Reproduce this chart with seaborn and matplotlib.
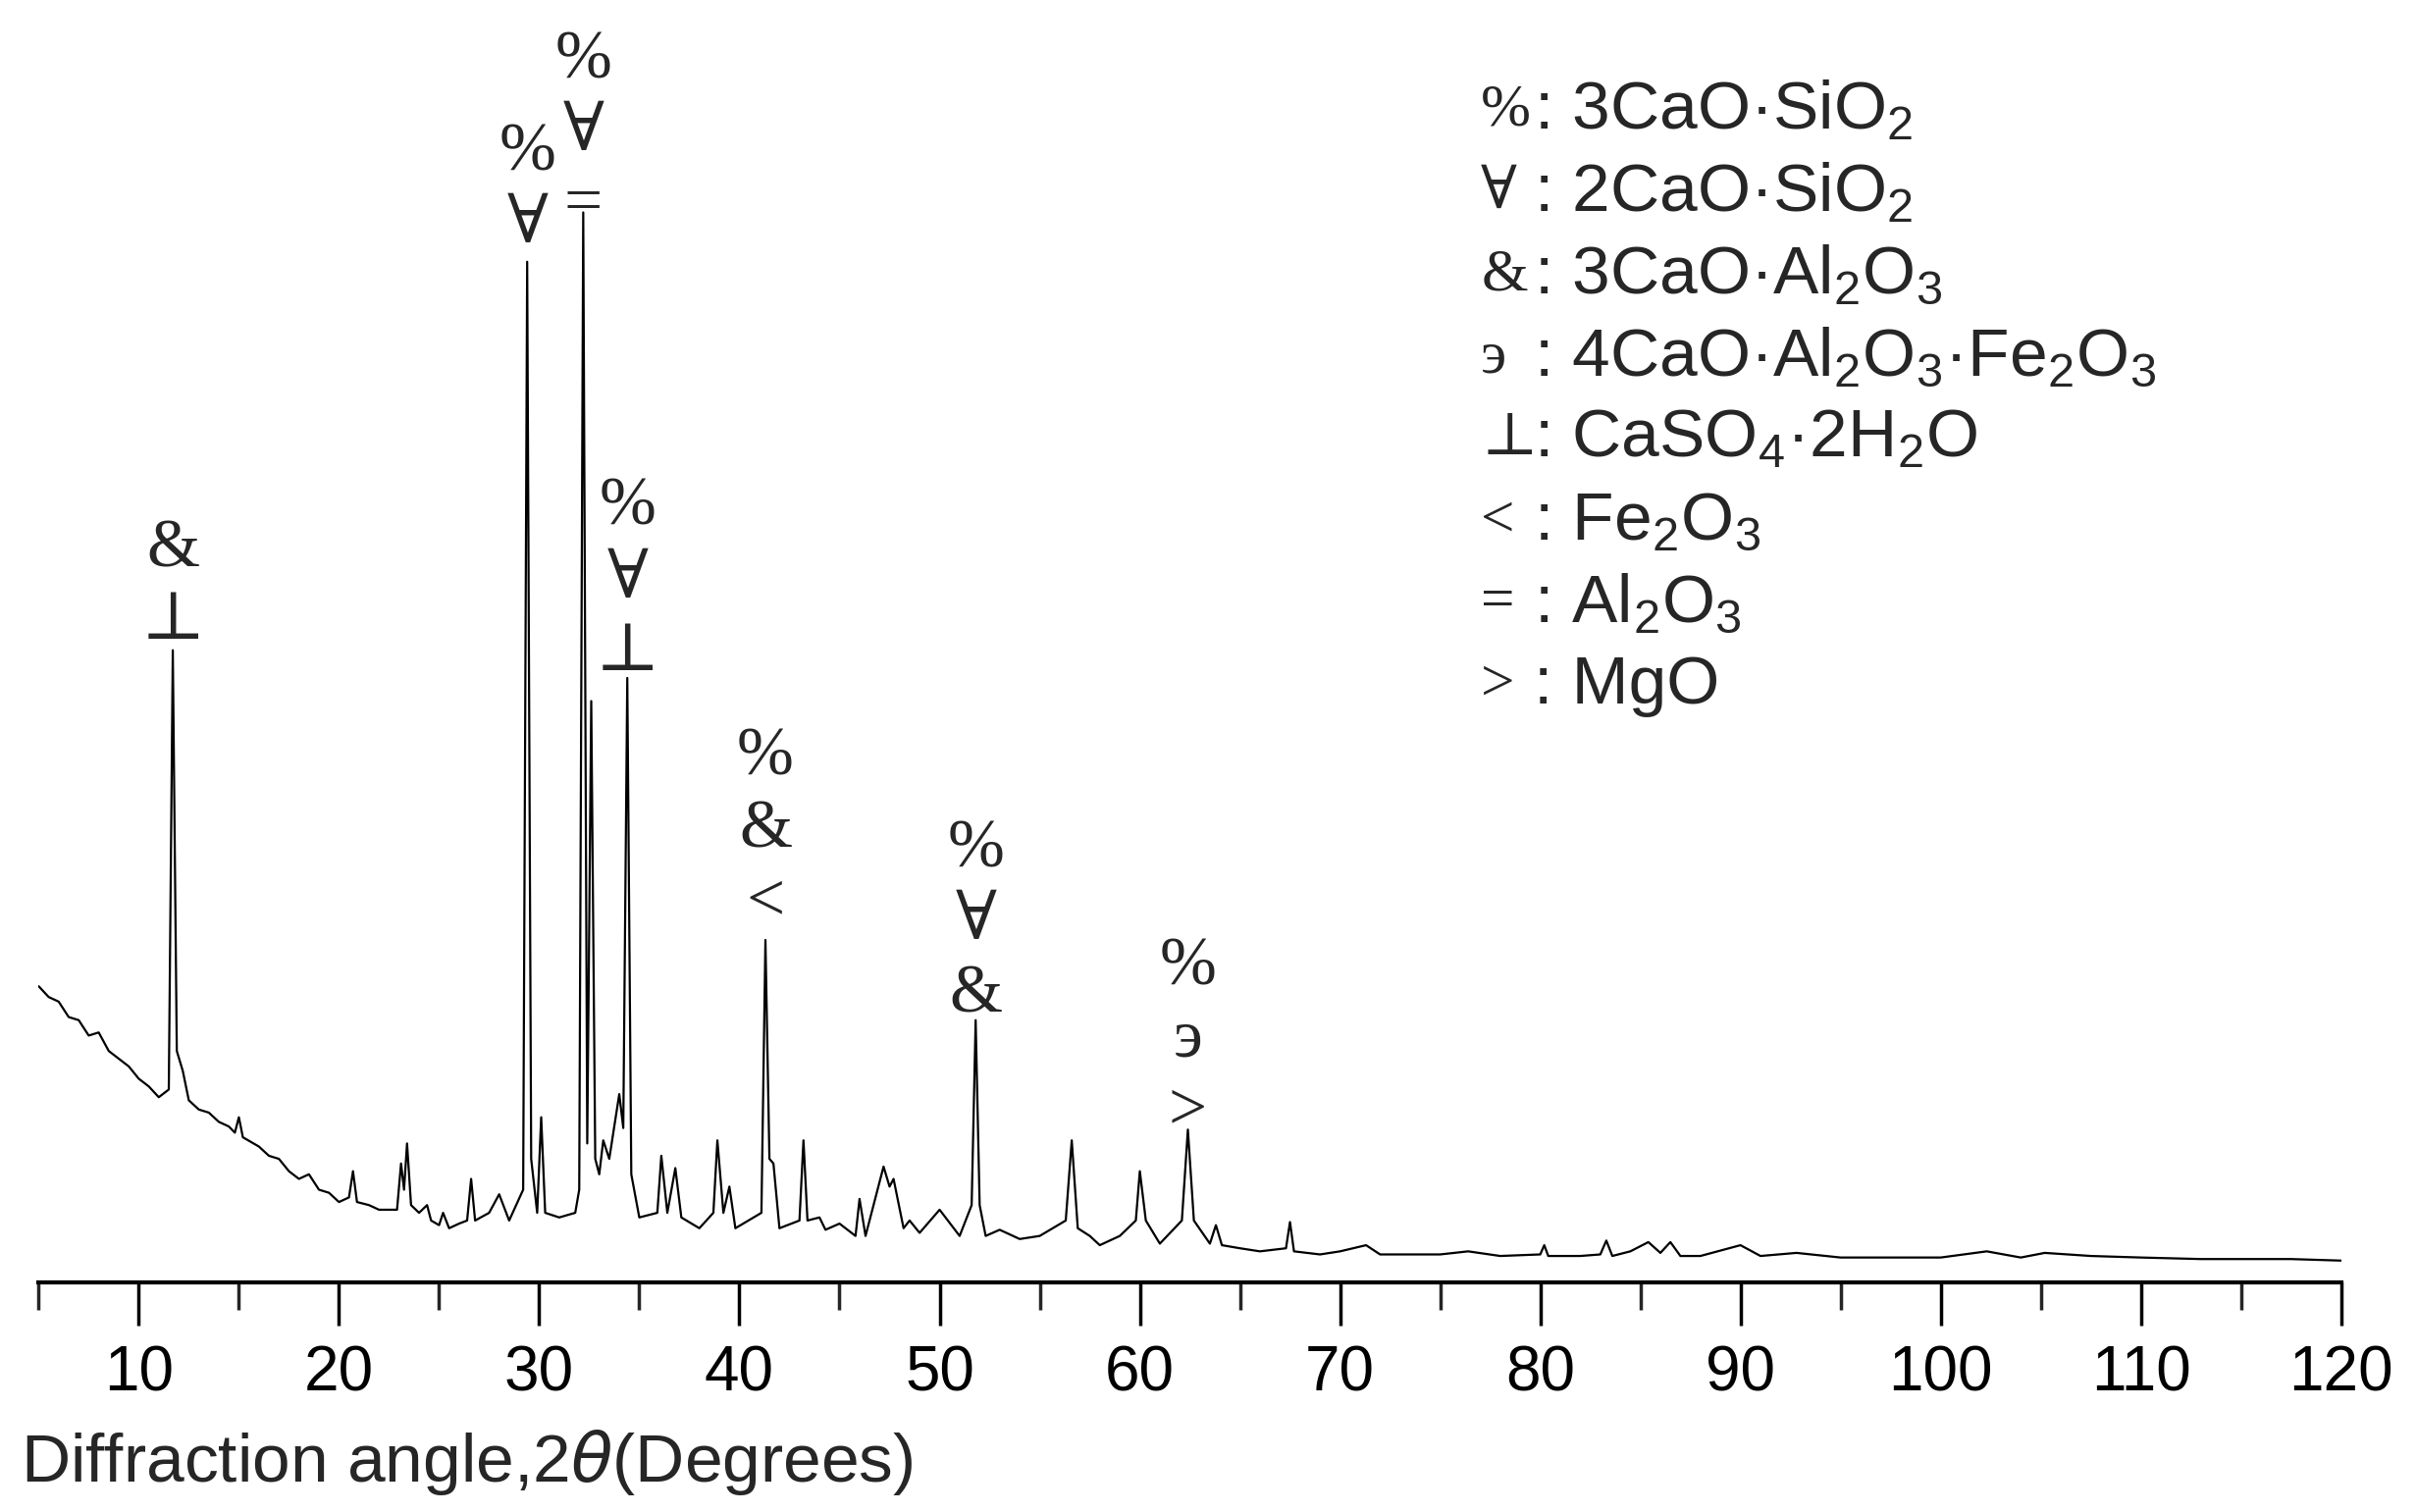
import matplotlib
matplotlib.use("Agg")
import matplotlib.pyplot as plt
import seaborn as sns
import pandas as pd
from matplotlib.ticker import MultipleLocator

sns.set_theme(style="white")
plt.rcParams['font.family'] = ['Liberation Sans', 'DejaVu Sans']
plt.rcParams['mathtext.fontset'] = 'custom'
plt.rcParams['mathtext.rm'] = 'Liberation Sans'

two_theta = [5, 5.5, 6, 6.5, 7, 7.5, 8, 8.5, 9, 9.5, 10, 10.5, 11, 11.5, 11.7, 11.9, 12.2, 12.5, 13, 13.5, 14, 14.5, 14.8, 15.0, 15.2,
             16, 16.5, 17, 17.5, 18, 18.5, 19, 19.5, 20, 20.5, 20.7, 20.9, 21.5, 22, 22.9, 23.1, 23.25, 23.4, 23.6, 24, 24.4, 24.6,
             25, 25.2, 25.5, 26, 26.4, 26.6, 26.8, 27.5, 28, 28.5, 29.2, 29.4, 29.6, 29.9, 30.1, 30.3,
             31, 31.8, 32.0, 32.2, 32.4, 32.6, 32.8, 33.0, 33.2, 33.5, 34.0, 34.2, 34.4, 34.6, 35, 35.9, 36.1, 36.4, 36.8, 37.1,
             38, 38.7, 38.9, 39.2, 39.5, 39.8, 41.1, 41.3, 41.5, 41.7, 42, 43.0, 43.2, 43.4, 44, 44.3, 45, 45.8, 46.0, 46.3, 47.2,
             47.5, 47.7, 48.2, 48.5, 49, 50, 51, 51.6, 51.8, 52.0, 52.3, 53, 54, 55, 56.3, 56.6, 56.9, 57.5, 58, 59, 59.8, 60.0,
             60.3, 61, 62.1, 62.4, 62.7, 63.5, 63.8, 64.1, 65, 66, 67.3, 67.5, 67.7, 69, 70, 71.3, 72, 75, 76.4, 78, 80, 80.2, 80.4,
             82, 83, 83.3, 83.6, 84.5, 85.4, 86, 86.5, 87, 88, 90, 91, 92.8, 95, 98, 100, 102.3, 104, 105.2, 107.5, 110, 113, 115,
             117.5, 120]
intensity = [192, 185, 182, 172, 170, 160, 162, 150, 145, 140, 132, 127, 120, 125, 410, 150, 137, 118, 112, 110, 104, 101, 97, 107, 94,
             88, 82, 80, 72, 67, 70, 60, 58, 52, 55, 72, 52, 50, 47, 47, 77, 60, 90, 50, 45, 50, 40,
             37, 45, 35, 38, 40, 67, 40, 45, 57, 40, 60, 662, 80, 45, 107, 45,
             42, 45, 60, 694, 90, 377, 80, 70, 92, 80, 122, 100, 392, 70, 42, 45, 82, 45, 74, 42,
             35, 45, 92, 45, 62, 35, 45, 222, 80, 77, 35, 40, 92, 40, 42, 34, 38, 30, 54, 30, 75,
             62, 67, 35, 40, 32, 47, 30, 50, 170, 50, 30, 34, 28, 30, 40, 92, 35, 30, 24, 30, 40, 72,
             40, 25, 40, 99, 40, 25, 37, 24, 22, 20, 22, 39, 20, 18, 20, 24, 18, 18, 20, 17, 18, 24, 17,
             17, 18, 27, 17, 20, 26, 19, 26, 17, 17, 24, 17, 19, 16, 16, 16, 20, 16, 19, 17, 16, 15, 15,
             15, 14]
df = pd.DataFrame({"x": two_theta, "y": intensity})

fig = plt.figure(figsize=(24.62, 15.41), dpi=100)
ax = fig.add_axes([0.016, 0.152, 0.953, 0.838])
sns.lineplot(data=df, x="x", y="y", ax=ax, color="black", linewidth=1.6)
ax.set_xlim(5, 120)
ax.set_ylim(0, 822)
for s in ["top", "right", "left"]:
    ax.spines[s].set_visible(False)
ax.spines["bottom"].set_color("black")
ax.spines["bottom"].set_linewidth(3)
ax.set_yticks([])
ax.xaxis.set_major_locator(MultipleLocator(10))
ax.xaxis.set_minor_locator(MultipleLocator(5))
ax.tick_params(axis="x", which="major", direction="out", length=32, width=2.5, bottom=True, labelsize=46, colors="black", pad=14)
ax.tick_params(axis="x", which="minor", direction="out", length=20, width=2.5, bottom=True)
ax.set_ylabel("")
ax.set_xlabel(r"Diffraction angle,2$\mathit{\theta}$(Degrees)", fontsize=50, loc="left", labelpad=12)
ax.xaxis.set_label_coords(-0.008, -0.115)

serif = ['Liberation Serif', 'DejaVu Serif']
peak_x = [11.7, 29.4, 32.2, 34.4, 41.3, 51.8, 62.4]
peak_labels = [["&", "⊥"], ["%", "∀"], ["%", "∀", "="], ["%", "∀", "⊥"], ["%", "&", "<"], ["%", "∀", "&"], ["%", "э", ">"]]
label_top = [475, 732, 792, 502, 340, 280, 204]
for px, labs, top in zip(peak_x, peak_labels, label_top):
    for i, lab in enumerate(labs):
        ax.text(px, top - i * 47, lab, ha="center", va="center", fontsize=50, family=serif)

legend_sym = ["%", "∀", "&", "э", "⊥", "<", "=", ">"]
legend_txt = [r": 3CaO·SiO$_2$", r": 2CaO·SiO$_2$", r": 3CaO·Al$_2$O$_3$", r": 4CaO·Al$_2$O$_3$·Fe$_2$O$_3$",
              r": CaSO$_4$·2H$_2$O", r": Fe$_2$O$_3$", r": Al$_2$O$_3$", r": MgO"]
for i, (s, t) in enumerate(zip(legend_sym, legend_txt)):
    y = 1 - (72 + i * 53.3) / 981
    fig.text(0.613, y, s, ha="left", va="center", fontsize=44, family=serif)
    fig.text(0.635, y, t, ha="left", va="center", fontsize=50)

fig.savefig("out.png", dpi=100, facecolor="white")
